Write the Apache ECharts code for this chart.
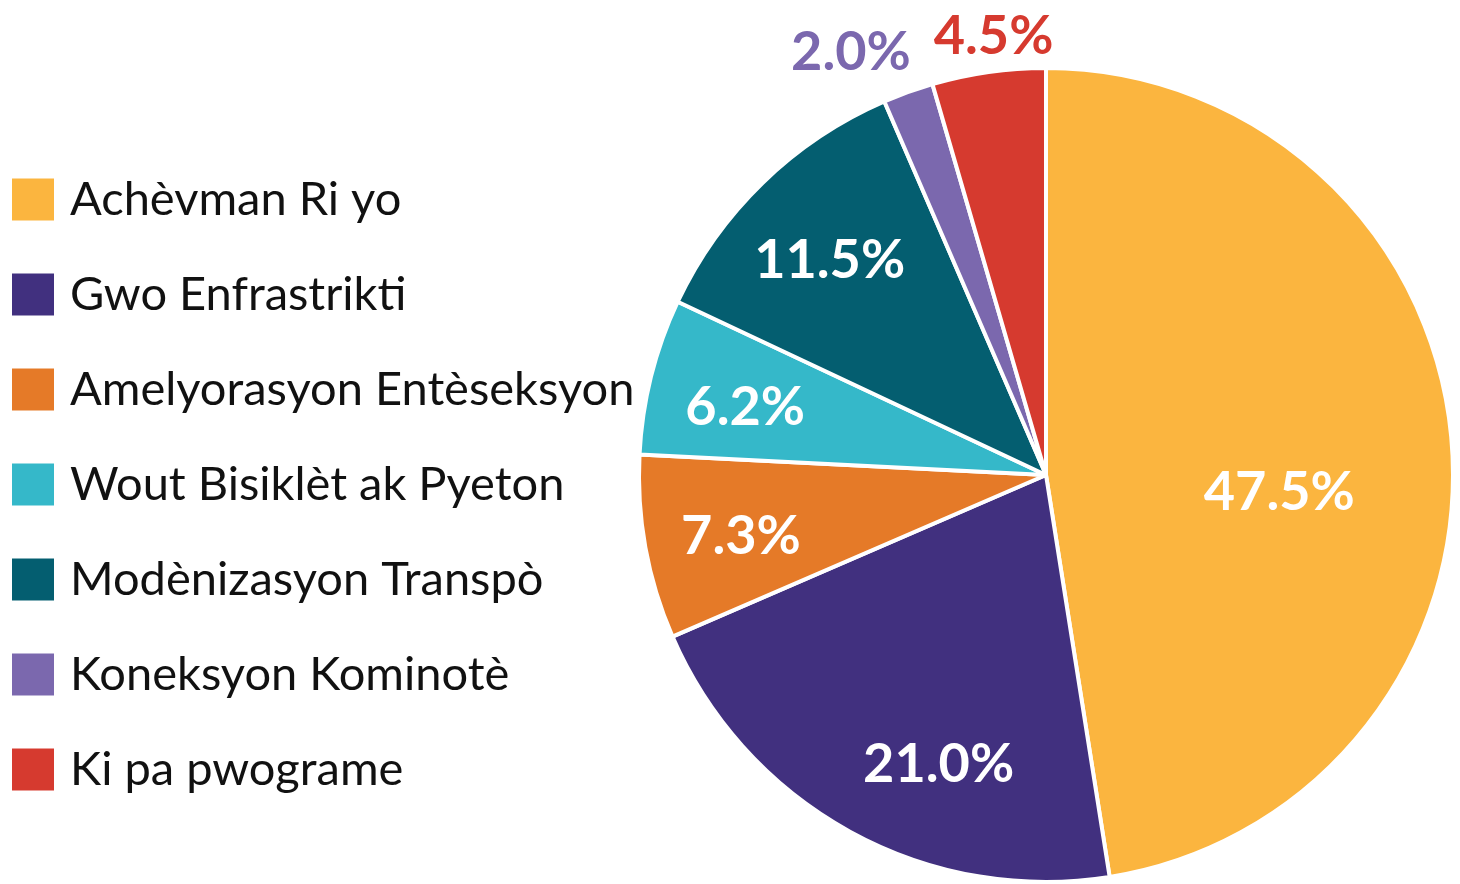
<!DOCTYPE html>
<html>
<head>
<meta charset="utf-8">
<style>
  html, body { margin: 0; padding: 0; background: #fff; }
  #main { width: 1460px; height: 884px; }
</style>
<script src="https://cdn.jsdelivr.net/npm/echarts@6/dist/echarts.min.js"></script>
</head>
<body>
<div id="main"></div>
<script>
var categories = ['Achèvman Ri yo', 'Gwo Enfrastrikti', 'Amelyorasyon Entèseksyon',
  'Wout Bisiklèt ak Pyeton', 'Modènizasyon Transpò', 'Koneksyon Kominotè', 'Ki pa pwograme'];
var shares = [47.5, 21.0, 7.3, 6.2, 11.5, 2.0, 4.5];
var colors = ['#FBB53F', '#41307F', '#E57A28', '#35B8C9', '#045E70', '#7B68AE', '#D63A2F'];

// which ring each value label sits on: 0 = near centre, 1 = inner ring, 2 = outside
var labelRing = [0, 1, 1, 1, 1, 2, 2];

var center = [1046, 475];
var fontFam = 'Lato, "Noto Sans", sans-serif';

var chart = echarts.init(document.getElementById('main'));

// small nudges to match the hand-placed labels
var nudges = {
  0: [-4, 36],
  1: [0, 20],
  5: [-45, -6],
  6: [10, 0]
};

function pieData(ring) {
  return categories.map(function (name, i) {
    var item = { name: name, value: shares[i] };
    if (labelRing[i] !== ring) {
      item.label = { show: false };
      return item;
    }
    item.label = {};
    if (ring === 2) item.label.color = colors[i];
    if (ring === 1) item.label.offset = [-2, 7];
    if (nudges[i]) item.label.offset = nudges[i];
    if (i === 1) item.label.padding = [0, 0, 0, 82];
    return item;
  });
}

function labelSeries(ring, radius) {
  return {
    type: 'pie',
    center: center,
    radius: radius,
    startAngle: 90,
    clockwise: true,
    silent: true,
    legendHoverLink: false,
    itemStyle: { color: 'transparent', borderWidth: 0 },
    emphasis: { disabled: true },
    label: {
      show: true,
      position: 'inside',
      formatter: function (p) { return p.value.toFixed(1) + '%'; },
      color: '#fff',
      fontSize: 54,
      fontWeight: 'bold',
      fontFamily: fontFam
    },
    labelLine: { show: false },
    data: pieData(ring)
  };
}

var option = {
  color: colors,
  animation: false,
  legend: {
    orient: 'vertical',
    left: 10,
    top: 176,
    padding: 0,
    itemWidth: 44,
    itemHeight: 44,
    itemGap: 48,
    icon: 'rect',
    selectedMode: false,
    textStyle: { fontSize: 47, lineHeight: 44, color: '#111', fontFamily: fontFam, padding: [0, 0, 0, 10] },
    data: categories
  },
  series: [
    {
      type: 'pie',
      center: center,
      radius: [0, 407],
      startAngle: 90,
      clockwise: true,
      itemStyle: { borderColor: '#fff', borderWidth: 4 },
      label: { show: false },
      labelLine: { show: false },
      emphasis: { disabled: true },
      data: categories.map(function (name, i) { return { name: name, value: shares[i] }; })
    },
    labelSeries(0, [60, 410]),
    labelSeries(1, [200, 410]),
    labelSeries(2, [400, 480])
  ]
};

chart.setOption(option);
</script>
</body>
</html>
